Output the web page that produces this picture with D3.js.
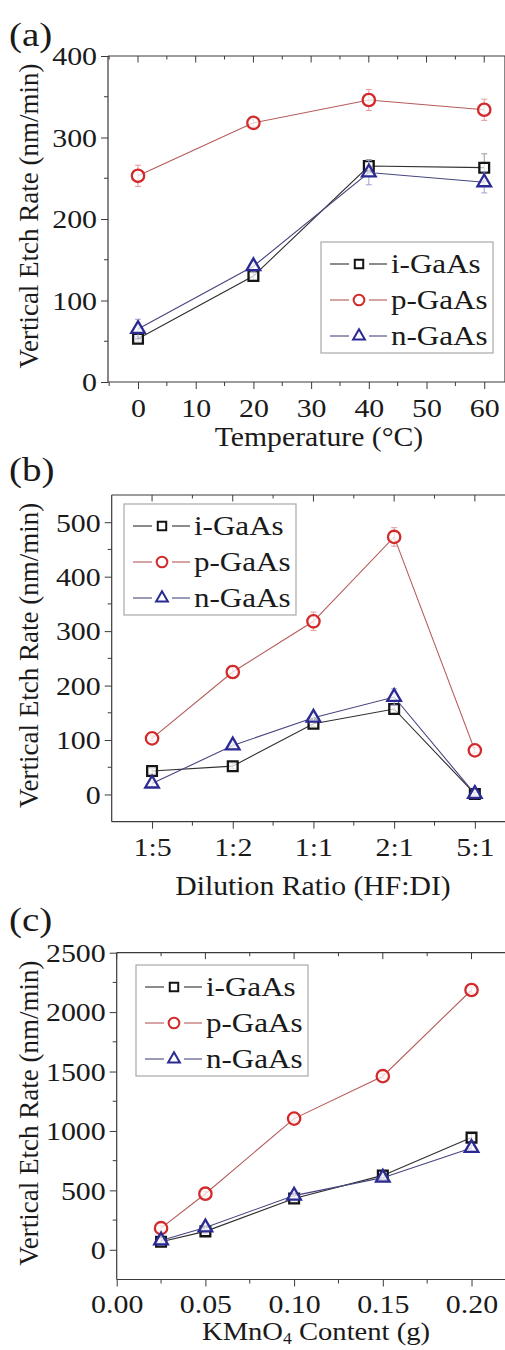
<!DOCTYPE html>
<html>
<head>
<meta charset="utf-8">
<script src="https://cdn.jsdelivr.net/npm/d3@7"></script>
<style>
  body { margin: 0; background: #fff; }
  svg { display: block; font-family: 'Liberation Serif', 'Times New Roman', serif; }
</style>
</head>
<body>
<div id="chart"></div>
<script>
// series names
var seriesNames = ['i-GaAs', 'p-GaAs', 'n-GaAs'];

// (a) temperature
var tempX = [0, 20, 40, 60];
var tempI = [53, 130, 265, 263];
var tempP = [253, 318, 346, 334];
var tempN = [65, 142, 257, 245];
var tempErrI = [3, 5, 8, 17];
var tempErrP = [13, 5, 13, 13];
var tempErrN = [12, 6, 15, 13];
var tempTicksX = [0, 10, 20, 30, 40, 50, 60];
var tempTicksY = [0, 100, 200, 300, 400];

// (b) dilution ratio
var ratioCats = ['1:5', '1:2', '1:1', '2:1', '5:1'];
var ratioI = [43, 52, 130, 157, 1];
var ratioP = [103, 225, 318, 473, 81];
var ratioN = [20, 90, 141, 179, 1];
var ratioErrI = [5, 5, 5, 8, 3];
var ratioErrP = [5, 12, 17, 17, 5];
var ratioErrN = [5, 5, 8, 15, 3];
var ratioTicksY = [0, 100, 200, 300, 400, 500];

// (c) KMnO4 content
var kmnX = [0.025, 0.05, 0.1, 0.15, 0.2];
var kmnI = [68, 155, 432, 626, 944];
var kmnP = [182, 472, 1104, 1461, 2186];
var kmnN = [78, 188, 456, 607, 857];
var kmnErrI = [20, 20, 20, 30, 30];
var kmnErrP = [25, 20, 30, 20, 25];
var kmnErrN = [20, 20, 30, 20, 20];
var kmnTicksX = [0, 0.05, 0.1, 0.15, 0.2];
var kmnTicksY = [0, 500, 1000, 1500, 2000, 2500];

var W = 505, H = 1350;
var SX = 1.15; // the source text is drawn a bit wide
var svg = d3.select('#chart').append('svg').attr('width', W).attr('height', H);

var styles = [
  { sym: d3.symbolSquare, size: 95, mark: '#151515', line: '#2e2e2e', err: '#9a9a9a' },
  { sym: d3.symbolCircle, size: 120, mark: '#d22a2a', line: '#b65a5a', err: '#e59a9a' },
  { sym: d3.symbolTriangle, size: 80, mark: '#2a2a92', line: '#45457e', err: '#a0a0d2' }
];
var axisColor = '#3a3a3a';
var textColor = '#1a1a1a';

function drawPanel(p) {
  var g = svg.append('g');
  var x = p.x, y = p.y;
  var x0 = x.range()[0], x1 = x.range()[1];
  var y0 = y.range()[0], y1 = y.range()[1];

  // frame (top / right lines)
  g.append('path')
    .attr('d', `M${x0},${y1}H${x1}V${y0}`)
    .attr('fill', 'none').attr('stroke', axisColor).attr('stroke-width', 1.2);

  // ticks on top (pointing inward)
  p.minorX.forEach(v => {
    g.append('line').attr('x1', p.xpos(v)).attr('x2', p.xpos(v))
      .attr('y1', y1).attr('y2', y1 + 3.5).attr('stroke', axisColor);
  });
  p.majorX.forEach(v => {
    g.append('line').attr('x1', p.xpos(v)).attr('x2', p.xpos(v))
      .attr('y1', y1).attr('y2', y1 + 6.5).attr('stroke', axisColor);
  });

  // bottom axis
  var xa = g.append('g').attr('transform', `translate(0,${y0})`)
    .call(p.xAxis.tickSizeOuter(0).tickSize(7).tickPadding(p.xPad || 6));
  // left axis
  var ya = g.append('g').attr('transform', `translate(${x0},0)`)
    .call(d3.axisLeft(y).tickValues(p.ticksY).tickFormat(d3.format('d'))
      .tickSizeOuter(0).tickSize(7).tickPadding(4));
  [xa, ya].forEach(a => {
    a.select('.domain').attr('stroke', axisColor).attr('stroke-width', 1.2)
      .attr('d', a === xa ? `M${x0},0H${x1}` : `M0,${y0}V${y1}`);
    a.selectAll('.tick line').attr('stroke', axisColor);
    a.selectAll('.tick text').attr('fill', textColor).style('font-size', '26px')
      .style('font-family', "'Liberation Serif', 'Times New Roman', serif")
      .attr('transform', `scale(${SX},1)`);
  });
  xa.selectAll('.tick text').attr('dy', '0.83em');
  ya.selectAll('.tick text').attr('dy', '0.34em').attr('x', -11 / SX);

  // minor ticks bottom / left (outward)
  p.minorX.forEach(v => {
    g.append('line').attr('x1', p.xpos(v)).attr('x2', p.xpos(v))
      .attr('y1', y0).attr('y2', y0 + 4).attr('stroke', axisColor);
  });
  p.minorY.forEach(v => {
    g.append('line').attr('x1', x0).attr('x2', x0 - 4)
      .attr('y1', y(v)).attr('y2', y(v)).attr('stroke', axisColor);
  });

  // series
  var line = d3.line().x(d => p.xpos(d.x)).y(d => y(d.y));
  p.series.forEach((s, k) => {
    var st = styles[k];
    var pts = s.values.map((v, i) => ({ x: p.xs[i], y: v, e: s.err[i] }));
    var sg = g.append('g');
    sg.append('path').datum(pts).attr('d', line)
      .attr('fill', 'none').attr('stroke', st.line).attr('stroke-width', 1.1);
    // error bars
    pts.forEach(d => {
      var cx = p.xpos(d.x);
      sg.append('path')
        .attr('d', `M${cx},${y(d.y - d.e)}V${y(d.y + d.e)}M${cx - 3},${y(d.y - d.e)}H${cx + 3}M${cx - 3},${y(d.y + d.e)}H${cx + 3}`)
        .attr('stroke', st.err).attr('stroke-width', 1).attr('fill', 'none');
    });
    sg.selectAll('path.mk').data(pts).enter().append('path').attr('class', 'mk')
      .attr('d', d3.symbol().type(st.sym).size(st.size))
      .attr('transform', d => `translate(${p.xpos(d.x)},${y(d.y)})`)
      .attr('fill', 'white').attr('fill-opacity', 0.7)
      .attr('stroke', st.mark).attr('stroke-width', 2.3);
  });

  // legend
  var lg = g.append('g').attr('transform', `translate(${p.legend[0]},${p.legend[1]})`);
  lg.append('rect').attr('width', 172).attr('height', 111)
    .attr('fill', 'white').attr('stroke', '#a8a8a8').attr('stroke-width', 1.2);
  seriesNames.forEach((name, k) => {
    var st = styles[k];
    var ry = 22 + k * 36;
    lg.append('line').attr('x1', 9).attr('x2', 28).attr('y1', ry).attr('y2', ry)
      .attr('stroke', st.line).attr('stroke-width', 1.1);
    lg.append('line').attr('x1', 48).attr('x2', 66).attr('y1', ry).attr('y2', ry)
      .attr('stroke', st.line).attr('stroke-width', 1.1);
    lg.append('path').attr('d', d3.symbol().type(st.sym).size(st.size * 0.75))
      .attr('transform', `translate(38,${ry})`)
      .attr('fill', 'white').attr('stroke', st.mark).attr('stroke-width', 2);
    lg.append('text').attr('transform', `translate(70,${ry}) scale(${SX},1)`)
      .attr('dy', '0.33em')
      .style('font-size', '27px').attr('fill', textColor).text(name);
  });

  // labels
  g.append('text').attr('transform', `translate(9,${p.tagY}) scale(${SX},1)`)
    .style('font-size', '34px').attr('fill', textColor).text(p.tag);
  g.append('text').attr('text-anchor', 'middle')
    .attr('transform', `translate(38,${(y0 + y1) / 2 - 3}) rotate(-90)`)
    .style('font-size', '27px').attr('fill', textColor).text('Vertical Etch Rate (nm/min)');
  var xt = g.append('text').attr('text-anchor', 'middle')
    .attr('transform', `translate(${p.titleX},${p.titleY}) scale(1.1,1)`)
    .style('font-size', p.titleSize || '27px').attr('fill', textColor);
  p.title(xt);
}

// (a)
var xa = d3.scaleLinear().domain([-5.2, 63.6]).range([108, 505]);
drawPanel({
  tag: '(a)', tagY: 46,
  x: xa, xpos: v => xa(v), xs: tempX,
  y: d3.scaleLinear().domain([0, 400]).range([382, 56]),
  xAxis: d3.axisBottom(xa).tickValues(tempTicksX),
  majorX: tempTicksX, minorX: d3.range(-5, 64, 5).filter(v => v % 10 !== 0),
  ticksY: tempTicksY, minorY: [50, 150, 250, 350],
  series: [
    { values: tempI, err: tempErrI },
    { values: tempP, err: tempErrP },
    { values: tempN, err: tempErrN }
  ],
  legend: [321, 242],
  titleX: 319, titleY: 446,
  title: t => t.text('Temperature (°C)')
});

// (b)
var xb = d3.scalePoint().domain(ratioCats).range([111.7, 515.2]).padding(0.5);
var stepB = xb.step();
drawPanel({
  tag: '(b)', tagY: 481,
  x: xb, xpos: v => (typeof v === 'number' ? xb(ratioCats[0]) + v * stepB : xb(v)),
  xs: ratioCats.map((c, i) => i),
  y: d3.scaleLinear().domain([-50, 550]).range([821.7, 495]),
  xAxis: d3.axisBottom(xb),
  majorX: [0, 1, 2, 3, 4], minorX: [0.5, 1.5, 2.5, 3.5],
  ticksY: ratioTicksY, minorY: [50, 150, 250, 350, 450],
  series: [
    { values: ratioI, err: ratioErrI },
    { values: ratioP, err: ratioErrP },
    { values: ratioN, err: ratioErrN }
  ],
  legend: [124, 504],
  titleX: 313, titleY: 895,
  title: t => t.text('Dilution Ratio (HF:DI)')
});

// (c)
var xc = d3.scaleLinear().domain([0, 0.22]).range([116.7, 507]);
drawPanel({
  tag: '(c)', tagY: 931,
  x: xc, xpos: v => xc(v), xs: kmnX,
  y: d3.scaleLinear().domain([-250, 2500]).range([1279.5, 952.7]),
  xAxis: d3.axisBottom(xc).tickValues(kmnTicksX).tickFormat(d3.format('.2f')),
  xPad: 5,
  majorX: kmnTicksX, minorX: [0.025, 0.075, 0.125, 0.175, 0.225],
  ticksY: kmnTicksY, minorY: [250, 750, 1250, 1750, 2250],
  series: [
    { values: kmnI, err: kmnErrI },
    { values: kmnP, err: kmnErrP },
    { values: kmnN, err: kmnErrN }
  ],
  legend: [136, 965],
  titleX: 316, titleY: 1340, titleSize: '26px',
  title: t => {
    t.append('tspan').text('KMnO');
    t.append('tspan').attr('dy', 4).style('font-size', '16px').text('4');
    t.append('tspan').attr('dy', -4).text(' Content (g)');
  }
});
</script>
</body>
</html>
